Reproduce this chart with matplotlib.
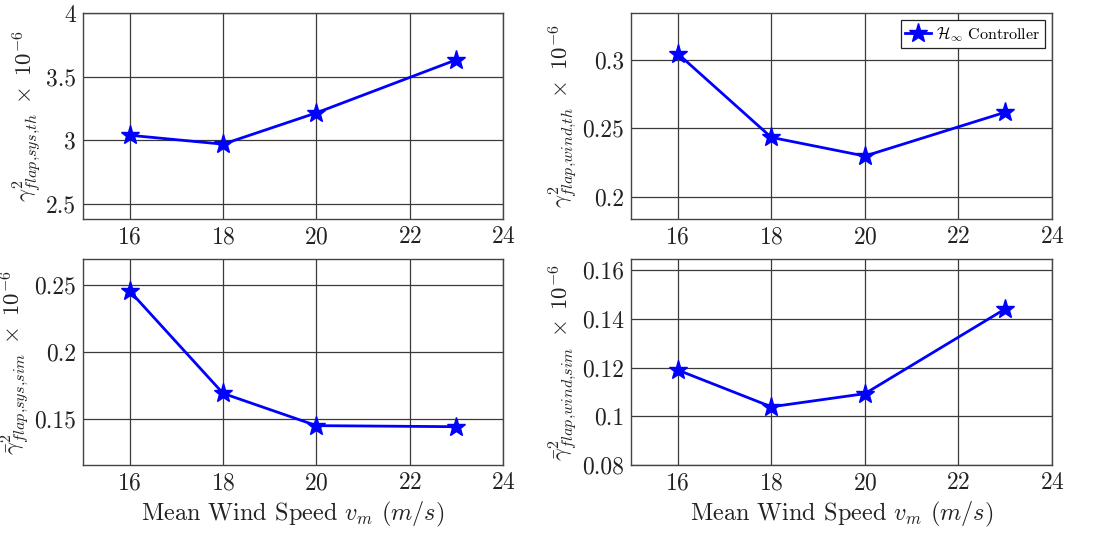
import matplotlib
matplotlib.use("Agg")
import matplotlib.pyplot as plt
from matplotlib.ticker import FuncFormatter

plt.rcParams["mathtext.fontset"] = "cm"
plt.rcParams["font.family"] = "serif"
plt.rcParams["font.serif"] = ["cmr10", "DejaVu Serif"]
plt.rcParams["axes.formatter.use_mathtext"] = True

# Mean wind speeds (m/s)
wind_speed = [16, 18, 20, 23]

# Flap-load variance measures (scaled by 1e-6)
sys_th = [3.04, 2.97, 3.216, 3.633]
wind_th = [0.3044, 0.2434, 0.2298, 0.2617]
sys_sim = [0.2455, 0.1693, 0.1453, 0.1445]
wind_sim = [0.119, 0.1039, 0.1093, 0.1441]

x_ticks = [16, 18, 20, 22, 24]
legend_label = r"$\mathcal{H}_\infty$ Controller"

panels = [
    dict(data=sys_th, rect=[0.075, 0.590, 0.3795, 0.3857],
         ylim=(2.383, 4.0), yticks=[2.5, 3, 3.5, 4],
         ylabel=r"$\gamma^2_{flap{,}sys{,}th}\;\times\;10^{-6}$", xlabel=False),
    dict(data=wind_th, rect=[0.570, 0.590, 0.3803, 0.3857],
         ylim=(0.184, 0.334), yticks=[0.2, 0.25, 0.3],
         ylabel=r"$\gamma^2_{flap{,}wind{,}th}\;\times\;10^{-6}$", xlabel=False),
    dict(data=sys_sim, rect=[0.075, 0.1292, 0.3795, 0.3858],
         ylim=(0.116, 0.2693), yticks=[0.15, 0.2, 0.25],
         ylabel=r"$\bar{\gamma}^2_{flap{,}sys{,}sim}\;\times\;10^{-6}$", xlabel=True),
    dict(data=wind_sim, rect=[0.570, 0.1292, 0.3803, 0.3858],
         ylim=(0.08, 0.1646), yticks=[0.08, 0.1, 0.12, 0.14, 0.16],
         ylabel=r"$\bar{\gamma}^2_{flap{,}wind{,}sim}\;\times\;10^{-6}$", xlabel=True),
]

fig = plt.figure(figsize=(11.07, 5.34), dpi=100)
fmt = FuncFormatter(lambda v, pos: "%g" % v)

for i, p in enumerate(panels):
    ax = fig.add_axes(p["rect"])
    ax.plot(wind_speed, p["data"], color="#0000ff", linewidth=2.0,
            marker="*", markersize=14, label=legend_label, zorder=3)
    ax.set_xlim(15, 24)
    ax.set_ylim(*p["ylim"])
    ax.set_xticks(x_ticks)
    ax.set_yticks(p["yticks"])
    ax.yaxis.set_major_formatter(fmt)
    ax.grid(True, color="#3a3a3a", linewidth=0.9)
    ax.set_axisbelow(True)
    for s in ax.spines.values():
        s.set_color("#444444")
        s.set_linewidth(1.0)
    ax.tick_params(length=0, labelsize=17, pad=5, colors="#222222")
    ax.set_ylabel(p["ylabel"], fontsize=16.5, labelpad=2, color="#222222")
    if p["xlabel"]:
        ax.set_xlabel(r"Mean Wind Speed $v_m$ $(m/s)$", fontsize=17.5,
                      labelpad=4, color="#222222")
    if i == 1:
        leg = ax.legend(loc="upper right", fontsize=11.5, fancybox=False,
                        framealpha=1, edgecolor="#222222", handlelength=1.6,
                        handletextpad=0.3, borderpad=0.3,
                        borderaxespad=0.45)
        leg.get_frame().set_linewidth(0.9)

fig.savefig("out.png", dpi=100)
